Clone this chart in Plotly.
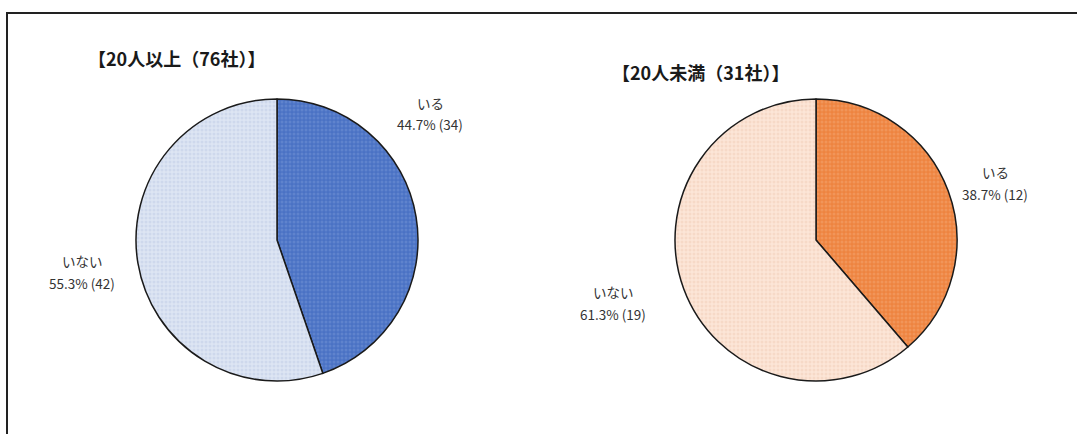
import plotly.graph_objects as go

W, H = 1077, 434

# 回答データ（社数）
categories = ["いる", "いない"]
large_counts = [34, 42]    # 20人以上
small_counts = [12, 19]    # 20人未満
titles = ["【20人以上（76社）】", "【20人未満（31社）】"]

FONT = "Noto Sans CJK JP"

def px_x(v):
    return v / W

def px_y(v):
    return 1 - v / H

fig = go.Figure()

def add_pie(counts, cx, colors, dotcolors):
    r = 141
    fig.add_trace(go.Pie(
        labels=categories,
        values=counts,
        sort=False,
        direction="clockwise",
        rotation=0,
        textinfo="none",
        hoverinfo="label+value+percent",
        marker=dict(
            colors=colors,
            line=dict(color="#1a1a1a", width=1.5),
            pattern=dict(shape=".", fgcolor=dotcolors, bgcolor=colors,
                         size=4, solidity=0.45, fillmode="overlay"),
        ),
        domain=dict(x=[px_x(cx - r), px_x(cx + r)],
                    y=[px_y(240 + r), px_y(240 - r)]),
        showlegend=False,
    ))

add_pie(large_counts, 277, ["#4A72C4", "#DDE5F3"], ["#7394D6", "#BFCCE6"])
add_pie(small_counts, 816, ["#EE8440", "#FCE5D7"], ["#F3A572", "#F0CDB8"])

# 各スライスのラベル位置（ピクセル：x, 名称の y, 数値の y）
label_pos = [
    (large_counts, [(430, 103, 124), (82, 261, 283)]),
    (small_counts, [(995, 172, 194), (613, 292, 314)]),
]

label_font = dict(family=FONT, size=13.5, color="#333333")

annotations = []
for counts, positions in label_pos:
    total = sum(counts)
    for i, (lx, ny, vy) in enumerate(positions):
        pct = counts[i] / total * 100
        for text, ly in ((categories[i], ny), (f"{pct:.1f}% ({counts[i]})", vy)):
            annotations.append(dict(
                x=px_x(lx), y=px_y(ly), xref="paper", yref="paper",
                text=text, showarrow=False,
                xanchor="center", yanchor="middle",
                font=label_font,
            ))

for title, (tx, ty) in zip(titles, [(86, 58), (610, 72)]):
    annotations.append(dict(
        x=px_x(tx), y=px_y(ty), xref="paper", yref="paper",
        text=f"<b>{title}</b>", showarrow=False,
        xanchor="left", yanchor="middle",
        font=dict(family=FONT, size=18, color="#1a1a1a"),
    ))

fig.update_layout(
    width=W, height=H,
    margin=dict(l=0, r=0, t=0, b=0),
    paper_bgcolor="white",
    plot_bgcolor="white",
    annotations=annotations,
    shapes=[dict(
        type="rect", xref="paper", yref="paper",
        x0=px_x(7), x1=px_x(W + 20), y0=px_y(H + 20), y1=px_y(13),
        line=dict(color="#222222", width=2),
    )],
)

fig.write_html("out.html")
